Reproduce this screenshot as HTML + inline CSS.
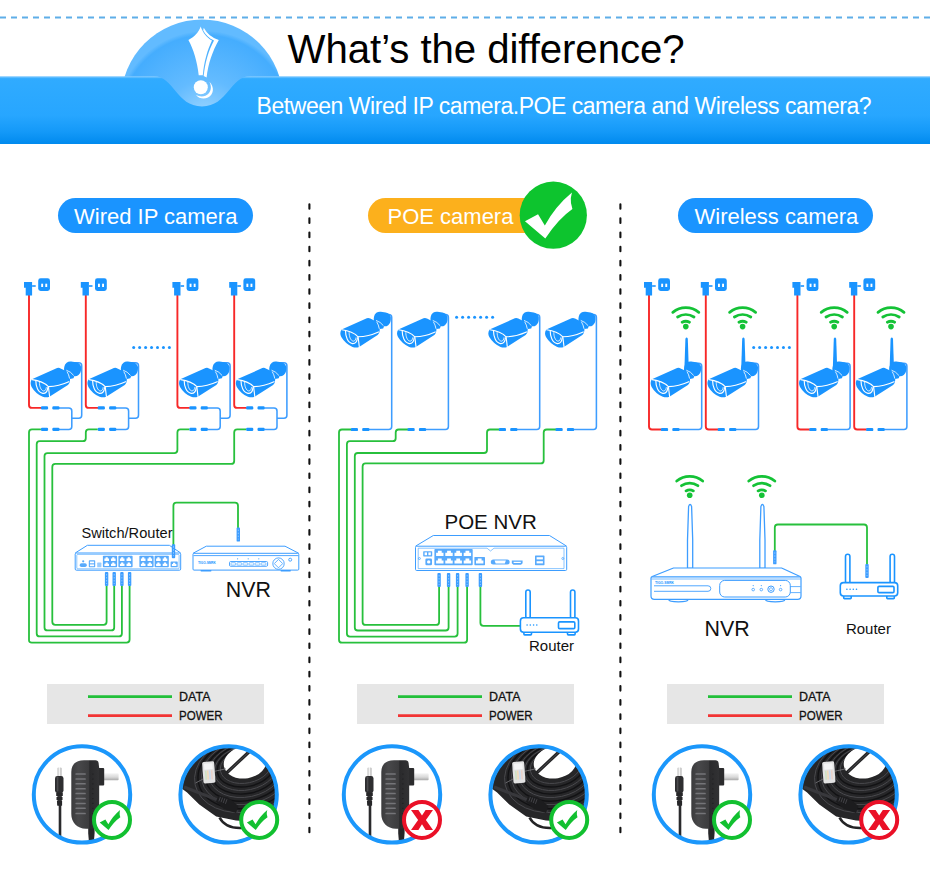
<!DOCTYPE html>
<html>
<head>
<meta charset="utf-8">
<title>What's the difference?</title>
<style>
html,body{margin:0;padding:0;background:#fff;}
body{width:930px;height:874px;overflow:hidden;position:relative;font-family:"Liberation Sans",sans-serif;}
svg{position:absolute;left:0;top:0;display:block;}
text{font-family:"Liberation Sans",sans-serif;}
</style>
</head>
<body>
<svg width="930" height="874" viewBox="0 0 930 874">
<defs>
  <linearGradient id="gBanner" x1="0" y1="0" x2="0" y2="1">
    <stop offset="0" stop-color="#86ccff"/>
    <stop offset="0.035" stop-color="#30abff"/>
    <stop offset="0.58" stop-color="#27a6ff"/>
    <stop offset="0.82" stop-color="#1499f8"/>
    <stop offset="1" stop-color="#008aee"/>
  </linearGradient>
  <radialGradient id="gDome" cx="0.52" cy="0.62" r="0.55">
    <stop offset="0" stop-color="#a2d8ff"/>
    <stop offset="0.45" stop-color="#63bbff"/>
    <stop offset="0.95" stop-color="#45adfe"/>
    <stop offset="1" stop-color="#62bbff"/>
  </radialGradient>
  
  <clipPath id="clipDome"><rect x="0" y="0" width="930" height="112"/></clipPath>
  <!-- camera: local origin corresponds to abs (20,350) for col1 cam1 -->
  <g id="cam">
    <rect x="44.1" y="11.8" width="17" height="14" rx="6" transform="rotate(8 52.6 18.8)" fill="#1a94ff"/>
    <path d="M46.2,19.5 L54.6,25.4 L53.5,28.2 L50,28.9 L46.9,21.6 Z" fill="#1a94ff"/>
    <path d="M11.9,29.3 L37.1,18.1 Q38.8,17.2 40.6,18.4 L46.5,21.2 L50,27.9 Q50.4,32.8 47.9,34.9 L29.4,46.7 Q26.3,47.8 22.8,46.7 Q15.8,43.9 11.6,36.9 Q9.5,32.8 11.9,29.3 Z" fill="#1a94ff"/>
    <g fill="none" stroke="#fff" stroke-width="1.15" stroke-linecap="round">
      <path d="M12.3,29.6 Q22.8,31 28.4,36.6 Q38.8,36.3 48.8,31.7"/>
      <path d="M28.4,36.6 L29.6,46.5"/>
      <path d="M15.8,30.5 C15.8,36.3 17.9,42.5 22.8,43.4 C26.3,43.6 27.5,40.4 27.8,37.6"/>
      <path d="M19.4,32.4 C19.4,36.3 20.8,40.4 23.5,41 C25.4,41 26.1,39.2 26.3,37.6" stroke-width="0.8"/>
      <path d="M46.7,20.3 Q50.7,21.6 53.5,25.2" stroke-width="0.8"/>
      <path d="M47.2,21.9 Q49,24.7 49.5,28.2" stroke-width="0.8"/>
    </g>
  </g>
  <!-- plug + socket: local origin = abs (20,270) col1 plug1 -->
  <g id="plug">
    <path d="M4,11.9 H12.1 V25.5 H5.7 V17.8 H4 Z" fill="#1a94ff"/>
    <line x1="12.1" y1="16" x2="15.7" y2="16" stroke="#1a94ff" stroke-width="1.6"/>
    <rect x="18.2" y="8.3" width="11.8" height="12.7" rx="2.4" fill="#1a94ff"/>
    <rect x="21.2" y="13.7" width="1.9" height="3.3" fill="#fff"/>
    <rect x="25.3" y="13.7" width="1.9" height="3.3" fill="#fff"/>
  </g>
  <!-- horizontal connector pair (two dashes) origin at left of first dash, centered on y=0 -->
  <g id="hcon">
    <rect x="0" y="-1.6" width="7.2" height="3.2" rx="1.2" fill="#1a94ff"/>
    <rect x="11.4" y="-1.6" width="7.2" height="3.2" rx="1.2" fill="#1a94ff"/>
  </g>
  <!-- vertical RJ45 connector, origin top-center, length 14 -->
  <g id="vcon">
    <rect x="-1.7" y="0" width="3.4" height="14" rx="0.9" fill="#3d9dff"/>
    <line x1="0" y1="2" x2="0" y2="12" stroke="#bfe0ff" stroke-width="0.6" stroke-dasharray="1.5 1.5"/>
  </g>
  <!-- wifi icon: origin at dot center -->
  <g id="wifi" fill="none" stroke="#14c236" stroke-width="2.8" stroke-linecap="round">
    <circle cx="0" cy="-0.2" r="2.8" fill="#14c236" stroke="none"/>
    <path d="M-3.7,-4.6 A7.9,7.9 0 0 1 3.7,-4.6"/>
    <path d="M-8.2,-9.8 A15,15 0 0 1 8.2,-9.8"/>
    <path d="M-13,-14.5 A20.6,20.6 0 0 1 13,-14.5"/>
  </g>
  <!-- check mark unit: coordinates relative to circle radius 1 -->
  <path id="chk" d="M-0.843,0.182 L-0.454,-0.029 L-0.252,0.303 Q0.065,-0.274 0.555,-0.677 Q0.50,-0.5 0.526,-0.36 L0.569,-0.187 Q0.151,0.101 -0.238,0.692 Z"/>

  <linearGradient id="gProng" x1="0" y1="0" x2="0" y2="1"><stop offset="0" stop-color="#f4f4f4"/><stop offset="0.55" stop-color="#d9d9d9"/><stop offset="1" stop-color="#a9a9a9"/></linearGradient>
  <linearGradient id="gBody" x1="0" y1="0" x2="1" y2="0"><stop offset="0" stop-color="#3a3a3c"/><stop offset="0.25" stop-color="#48484a"/><stop offset="0.62" stop-color="#3c3c3e"/><stop offset="0.66" stop-color="#2a2a2c"/><stop offset="1" stop-color="#323234"/></linearGradient>
  <linearGradient id="gTip" x1="0" y1="0" x2="1" y2="0"><stop offset="0" stop-color="#bdbdbd"/><stop offset="0.5" stop-color="#f3f3f3"/><stop offset="1" stop-color="#a8a8a8"/></linearGradient>
  <g id="adapter">
    <!-- dc plug -->
    <rect x="57.5" y="767.4" width="4" height="9.6" rx="1" fill="url(#gTip)"/>
    <rect x="55" y="776" width="8.5" height="17" rx="2.4" fill="#2e2e30"/>
    <rect x="56.8" y="776.5" width="1.6" height="15" rx="0.8" fill="#4c4c4e"/>
    <rect x="57.4" y="792" width="4.4" height="13.6" fill="#323234"/>
    <path d="M56.2,792.6 H62.8 V796 H56.2 Z M56.5,796.9 H62.5 V800 H56.5 Z M56.9,800.9 H62.1 V805.4 H57.4 Z" fill="#262628"/>
    <rect x="58.7" y="804" width="2.6" height="32" fill="#2a2a2c"/>
    <!-- prong -->
    <rect x="103" y="773.3" width="15.6" height="6.9" rx="0.8" fill="url(#gProng)"/>
    <rect x="97" y="767.9" width="7.2" height="17.5" rx="1" fill="#2b2b2d"/>
    <!-- strain relief -->
    <path d="M88.2,826 H94.6 V833 L94,840.5 H88.8 L88.2,833 Z" fill="#262628"/>
    <!-- body -->
    <path d="M71.3,772 C71.3,764 76,760.2 84,760.2 H95.5 Q98.2,760.2 98.6,763 L99.2,768 V821 C99.2,826 96,828.8 91,828.8 H86 C77,828.8 71.3,822 71.3,814 Z" fill="url(#gBody)"/>
    <g fill="#747478">
      <rect x="75.4" y="773.25" width="10.4" height="1.5" rx="0.6"/><rect x="75.4" y="778.25" width="10.4" height="1.5" rx="0.6"/><rect x="75.4" y="783.05" width="10.4" height="1.5" rx="0.6"/><rect x="75.4" y="788.05" width="10.4" height="1.5" rx="0.6"/><rect x="75.4" y="792.85" width="10.4" height="1.5" rx="0.6"/><rect x="75.4" y="797.85" width="10.4" height="1.5" rx="0.6"/><rect x="75.4" y="802.65" width="10.4" height="1.5" rx="0.6"/><rect x="75.4" y="807.55" width="10.4" height="1.5" rx="0.6"/><rect x="75.4" y="812.75" width="10.4" height="1.5" rx="0.6"/>
    </g>
    <g fill="#1c1c1e">
      <circle cx="92.9" cy="774.0" r="0.6"/><circle cx="92.9" cy="779.0" r="0.6"/><circle cx="92.9" cy="783.8" r="0.6"/><circle cx="92.9" cy="788.8" r="0.6"/><circle cx="92.9" cy="793.6" r="0.6"/><circle cx="92.9" cy="798.6" r="0.6"/><circle cx="92.9" cy="803.4" r="0.6"/><circle cx="92.9" cy="808.3" r="0.6"/><circle cx="92.9" cy="813.5" r="0.6"/>
    </g>
  </g>

  <clipPath id="clipCoil"><circle cx="228.6" cy="794.4" r="47"/></clipPath>
  <g id="coil">
    <g clip-path="url(#clipCoil)">
      <circle cx="228.6" cy="794.4" r="48" fill="#262628"/>
      <!-- texture arcs -->
      <g fill="none" stroke="#4a4a4e" stroke-width="0.9">
        <ellipse cx="246" cy="766" rx="26" ry="17" transform="rotate(-12 246 766)"/>
        <ellipse cx="246" cy="768" rx="32" ry="22" transform="rotate(-12 246 768)"/>
        <ellipse cx="246" cy="770" rx="38" ry="27" transform="rotate(-12 246 770)"/>
        <ellipse cx="246" cy="772" rx="45" ry="32" transform="rotate(-12 246 772)"/>
        <ellipse cx="246" cy="774" rx="52" ry="38" transform="rotate(-12 246 774)"/>
      </g>
      <g fill="none" stroke="#121214" stroke-width="1.4">
        <ellipse cx="246" cy="767" rx="29" ry="19.5" transform="rotate(-12 246 767)"/>
        <ellipse cx="246" cy="769" rx="35" ry="24.5" transform="rotate(-12 246 769)"/>
        <ellipse cx="246" cy="771" rx="41.5" ry="29.5" transform="rotate(-12 246 771)"/>
        <ellipse cx="246" cy="773" rx="48.5" ry="35" transform="rotate(-12 246 773)"/>
      </g>
      <!-- hole -->
      <ellipse cx="245.2" cy="762.4" rx="21.6" ry="16" transform="rotate(-10 245.2 762.4)" fill="#fff"/>
      <!-- crossing cable -->
      <path d="M250.5,750.5 L226.5,773" stroke="#242426" stroke-width="3.3" fill="none"/>
      <path d="M249.6,751.4 L228,771.6" stroke="#5a5a5e" stroke-width="0.7" fill="none"/>
      <!-- white bottom-left -->
      <path d="M176,784.6 L187.1,792.4 L199.3,804.6 L216.2,816.4 L236,820.6 L262,822 V848 H176 Z" fill="#fff"/>
      <!-- lower loop -->
      <path d="M219.5,817.5 C224,826 232,828.5 242,828" fill="none" stroke="#242426" stroke-width="2.6"/>
      <!-- long boot cable along the diagonal -->
      <path d="M184,787 L218,800 L238,812" fill="none" stroke="#38383c" stroke-width="3"/>
      <path d="M218.5,795.5 L228,797.5 L238.5,806 L236,813 L224,809 L216,801.5 Z" fill="#1c1c1e"/>
      <g stroke="#55555a" stroke-width="0.7"><path d="M220.4,797 l-1.6,4.4 M222.6,797.6 l-1.6,4.6 M224.8,798.4 l-1.6,4.6 M227,799.2 l-1.6,4.6"/></g>
      <!-- RJ45 clear plug -->
      <g transform="rotate(-4 208.8 772.3)">
        <rect x="202.8" y="761.6" width="12" height="21.6" rx="1.6" fill="#e2e2e2"/>
        <rect x="204.6" y="763.4" width="8.4" height="6" fill="#f4f4f4"/>
        <rect x="205" y="770.5" width="1.5" height="9" fill="#cfe3c2"/><rect x="207" y="770.5" width="1.5" height="9" fill="#f1d9b8"/><rect x="209" y="770.5" width="1.5" height="9" fill="#c8d8ef"/><rect x="211" y="770.5" width="1.5" height="9" fill="#ead0c8"/>
      </g>
      <path d="M215,771.2 L226,768.8 M203,779 L195.5,783" stroke="#7a7a7e" stroke-width="0.8" fill="none"/>
    </g>
  </g>

</defs>

<!-- ===== HEADER ===== -->
<g id="header">
  <line x1="0" y1="17.5" x2="930" y2="17.5" stroke="#5eaee8" stroke-width="1.8" stroke-dasharray="6 5"/>
  <circle cx="202" cy="100.5" r="81" fill="url(#gDome)" clip-path="url(#clipDome)"/>
  <path d="M0,76.3 H154 C174,76.3 176,106.4 202,106.4 C228,106.4 230,76.3 250,76.3 H930 V144 H0 Z" fill="url(#gBanner)"/>
  <g id="excl" fill="#fff">
    <path d="M200.7,26.6 C199,32 194,37.6 188.4,40 C193.4,49 197.4,62 198.7,75.3 L202.8,75.3 C204,62 207.4,50 212,40.6 C207,38 202.6,32.6 200.7,26.6 Z"/>
    <path d="M203.8,27.8 C206.8,33.4 212,37.8 218.8,40 C212.6,51 208,64 206.6,77.4 L203.7,76 C205,63 208.4,50.6 214,40.4 C209.2,38.4 205.4,34.6 203.2,30.2 Z"/>
    <circle cx="200.8" cy="87.2" r="7"/>
    <path d="M209.4,81.8 C214.6,86.8 214,94.6 208,97.6 C203.6,99.6 198.6,98.4 196,95 C200.4,97.4 205.6,96.8 208.6,93.6 C211.6,90.2 211.4,85.4 209.4,81.8 Z"/>
  </g>
  <text x="287.6" y="63" font-size="40.2" fill="#000" textLength="397" lengthAdjust="spacing">What’s the difference?</text>
  <text x="256.6" y="113.7" font-size="23" fill="#fff" textLength="615" lengthAdjust="spacing">Between Wired IP camera.POE camera and Wireless camera?</text>
</g>

<!-- ===== PILLS ===== -->
<g id="pills">
  <rect x="58" y="198" width="195" height="35" rx="17.5" fill="#1a94ff"/>
  <text x="74" y="224" font-size="22" fill="#fff">Wired IP camera</text>
  <rect x="368" y="198" width="190" height="35" rx="17.5" fill="#fcb01c"/>
  <text x="387.5" y="224" font-size="22" fill="#fff">POE camera</text>
  <circle cx="553.3" cy="215.2" r="33.6" fill="#0dc42e"/>
  <use href="#chk" transform="translate(553.3,215.2) scale(33.6)" fill="#fff"/>
  <rect x="678" y="198" width="195" height="35" rx="17.5" fill="#1a94ff"/>
  <text x="694.5" y="224" font-size="22" fill="#fff">Wireless camera</text>
</g>

<!-- ===== DIVIDERS ===== -->
<g id="dividers" stroke="#111" stroke-width="2.1" stroke-linecap="round" stroke-dasharray="4.6 9.57">
  <line x1="309.4" y1="204.2" x2="309.4" y2="834"/>
  <line x1="620.4" y1="204.2" x2="620.4" y2="834"/>
</g>

<g id="col1">
<g fill="none" stroke="#27c03c" stroke-width="1.8" stroke-linejoin="round">
<path d="M40.9,429.4 H32 Q29,429.4 29,432.4 V639.6 Q28.8,642.6 31.8,642.6 H126.6 Q129.6,642.6 129.6,639.6 V586"/>
<path d="M97.69999999999999,429.4 H88.8 Q85.8,429.4 85.8,432.4 V438.2 Q85.8,441.2 82.8,441.2 H39.7 Q36.7,441.2 36.7,444.2 V633.4 Q36.7,636.4 39.7,636.4 H118.9 Q121.9,636.4 121.9,633.4 V586"/>
<path d="M189.3,429.4 H180.4 Q177.4,429.4 177.4,432.4 V450.1 Q177.4,453.1 174.4,453.1 H47.5 Q44.5,453.1 44.5,456.1 V627.4 Q44.5,630.4 47.5,630.4 H111.2 Q114.2,630.4 114.2,627.4 V586"/>
<path d="M246.1,429.4 H237.2 Q234.2,429.4 234.2,432.4 V460.9 Q234.2,463.9 231.2,463.9 H55.3 Q52.3,463.9 52.3,466.9 V621.8 Q52.3,624.8 55.3,624.8 H103.6 Q106.6,624.8 106.6,621.8 V586"/>
<path d="M173.4,545 V505.7 Q173.4,502.7 176.4,502.7 H235 Q238,502.7 238,505.7 V528"/>
</g>
<g transform="translate(0,0)">
<path d="M29,295 V404.9 Q29,407.9 32,407.9 H41.5" fill="none" stroke="#f72828" stroke-width="1.9"/>
<path d="M59,407.9 H68.8 Q71.8,407.9 71.8,410.9 V426.4 Q71.8,429.4 68.8,429.4 H59 M71.8,418.3 H78.7 Q81.7,418.3 81.7,415.3 V365.8 Q81.7,362.8 78.7,362.8 H72" fill="none" stroke="#3d9dff" stroke-width="1.55"/>
<use href="#hcon" x="40.9" y="407.9"/>
<use href="#hcon" x="40.9" y="429.4"/>
<use href="#plug" x="20" y="270"/>
<use href="#cam" x="20" y="350"/>
</g>
<g transform="translate(56.8,0)">
<path d="M29,295 V404.9 Q29,407.9 32,407.9 H41.5" fill="none" stroke="#f72828" stroke-width="1.9"/>
<path d="M59,407.9 H68.8 Q71.8,407.9 71.8,410.9 V426.4 Q71.8,429.4 68.8,429.4 H59 M71.8,418.3 H78.7 Q81.7,418.3 81.7,415.3 V365.8 Q81.7,362.8 78.7,362.8 H72" fill="none" stroke="#3d9dff" stroke-width="1.55"/>
<use href="#hcon" x="40.9" y="407.9"/>
<use href="#hcon" x="40.9" y="429.4"/>
<use href="#plug" x="20" y="270"/>
<use href="#cam" x="20" y="350"/>
</g>
<g transform="translate(148.4,0)">
<path d="M29,295 V404.9 Q29,407.9 32,407.9 H41.5" fill="none" stroke="#f72828" stroke-width="1.9"/>
<path d="M59,407.9 H68.8 Q71.8,407.9 71.8,410.9 V426.4 Q71.8,429.4 68.8,429.4 H59 M71.8,418.3 H78.7 Q81.7,418.3 81.7,415.3 V365.8 Q81.7,362.8 78.7,362.8 H72" fill="none" stroke="#3d9dff" stroke-width="1.55"/>
<use href="#hcon" x="40.9" y="407.9"/>
<use href="#hcon" x="40.9" y="429.4"/>
<use href="#plug" x="20" y="270"/>
<use href="#cam" x="20" y="350"/>
</g>
<g transform="translate(205.2,0)">
<path d="M29,295 V404.9 Q29,407.9 32,407.9 H41.5" fill="none" stroke="#f72828" stroke-width="1.9"/>
<path d="M59,407.9 H68.8 Q71.8,407.9 71.8,410.9 V426.4 Q71.8,429.4 68.8,429.4 H59 M71.8,418.3 H78.7 Q81.7,418.3 81.7,415.3 V365.8 Q81.7,362.8 78.7,362.8 H72" fill="none" stroke="#3d9dff" stroke-width="1.55"/>
<use href="#hcon" x="40.9" y="407.9"/>
<use href="#hcon" x="40.9" y="429.4"/>
<use href="#plug" x="20" y="270"/>
<use href="#cam" x="20" y="350"/>
</g>
<g fill="#1a94ff"><circle cx="133.70" cy="347.5" r="1.5"/><circle cx="139.65" cy="347.5" r="1.5"/><circle cx="145.60" cy="347.5" r="1.5"/><circle cx="151.55" cy="347.5" r="1.5"/><circle cx="157.50" cy="347.5" r="1.5"/><circle cx="163.45" cy="347.5" r="1.5"/><circle cx="169.40" cy="347.5" r="1.5"/></g>
<g id="switch" fill="none" stroke="#3d9dff" stroke-width="1" stroke-linejoin="round">
<path d="M75.2,553 L87.4,545.3 H169.4 L180.7,553" fill="#fff"/>
<rect x="75.2" y="553" width="105.5" height="17.2" rx="1.2" fill="#fff"/>
<rect x="76.8" y="554.4" width="102.3" height="14.4" rx="0.8" stroke-width="0.6"/>
<rect x="102.9" y="555.7" width="14.2" height="11.6" rx="0.8" fill="#58aafc" stroke="none"/>
<path d="M104.4,560.9 V558.5 H105.6 V557.3 H107.8 V558.5 H109.0 V560.9 Z" fill="#fff" stroke="none"/>
<path d="M111.0,560.9 V558.5 H112.2 V557.3 H114.4 V558.5 H115.6 V560.9 Z" fill="#fff" stroke="none"/>
<path d="M104.4,566.1 V563.7 H105.6 V562.5 H107.8 V563.7 H109.0 V566.1 Z" fill="#fff" stroke="none"/>
<path d="M111.0,566.1 V563.7 H112.2 V562.5 H114.4 V563.7 H115.6 V566.1 Z" fill="#fff" stroke="none"/>
<rect x="118.4" y="555.7" width="14.2" height="11.6" rx="0.8" fill="#58aafc" stroke="none"/>
<path d="M119.9,560.9 V558.5 H121.1 V557.3 H123.3 V558.5 H124.5 V560.9 Z" fill="#fff" stroke="none"/>
<path d="M126.5,560.9 V558.5 H127.7 V557.3 H129.9 V558.5 H131.1 V560.9 Z" fill="#fff" stroke="none"/>
<path d="M119.9,566.1 V563.7 H121.1 V562.5 H123.3 V563.7 H124.5 V566.1 Z" fill="#fff" stroke="none"/>
<path d="M126.5,566.1 V563.7 H127.7 V562.5 H129.9 V563.7 H131.1 V566.1 Z" fill="#fff" stroke="none"/>
<rect x="139.4" y="555.7" width="14.2" height="11.6" rx="0.8" fill="#58aafc" stroke="none"/>
<path d="M140.9,560.9 V558.5 H142.1 V557.3 H144.3 V558.5 H145.5 V560.9 Z" fill="#fff" stroke="none"/>
<path d="M147.5,560.9 V558.5 H148.7 V557.3 H150.9 V558.5 H152.1 V560.9 Z" fill="#fff" stroke="none"/>
<path d="M140.9,566.1 V563.7 H142.1 V562.5 H144.3 V563.7 H145.5 V566.1 Z" fill="#fff" stroke="none"/>
<path d="M147.5,566.1 V563.7 H148.7 V562.5 H150.9 V563.7 H152.1 V566.1 Z" fill="#fff" stroke="none"/>
<rect x="154.6" y="555.7" width="14.2" height="11.6" rx="0.8" fill="#58aafc" stroke="none"/>
<path d="M156.1,560.9 V558.5 H157.3 V557.3 H159.5 V558.5 H160.7 V560.9 Z" fill="#fff" stroke="none"/>
<path d="M162.7,560.9 V558.5 H163.9 V557.3 H166.1 V558.5 H167.3 V560.9 Z" fill="#fff" stroke="none"/>
<path d="M156.1,566.1 V563.7 H157.3 V562.5 H159.5 V563.7 H160.7 V566.1 Z" fill="#fff" stroke="none"/>
<path d="M162.7,566.1 V563.7 H163.9 V562.5 H166.1 V563.7 H167.3 V566.1 Z" fill="#fff" stroke="none"/>
<rect x="170.6" y="561.5" width="7.1" height="5.8" rx="0.6" fill="#58aafc" stroke="none"/>
<path d="M171.9,566 V563.9 H173 V562.8 H175.3 V563.9 H176.4 V566 Z" fill="#fff" stroke="none"/>
<circle cx="83.2" cy="561.3" r="1.1" fill="#58aafc" stroke="none"/>
<rect x="79.7" y="563.3" width="7.1" height="3.8" rx="1.8" fill="#58aafc" stroke="none"/>
<rect x="88.8" y="560.3" width="6.4" height="7" rx="0.8" fill="#58aafc" stroke="none"/>
<rect x="89.9" y="561.5" width="4.2" height="1.8" fill="#fff" stroke="none"/><rect x="89.9" y="564.4" width="4.2" height="1.8" fill="#fff" stroke="none"/>
<rect x="97.2" y="562.6" width="4.2" height="4.7" rx="0.6" fill="#9accfd" stroke="none"/>
</g>
<g id="nvr1" fill="none" stroke="#3d9dff" stroke-width="1" stroke-linejoin="round">
<path d="M193,553.3 L206.3,546.2 H285 L298.8,553.3" fill="#fff"/>
<rect x="193" y="553.3" width="105.8" height="16.8" rx="1" fill="#fff"/>
<line x1="193.5" y1="555.6" x2="298.3" y2="555.6" stroke-width="0.9"/>
<rect x="200.5" y="570.1" width="11" height="1.4" rx="0.7" fill="#3d9dff" stroke="none"/>
<rect x="280.5" y="570.1" width="10.4" height="1.4" rx="0.7" fill="#3d9dff" stroke="none"/>
<text x="197.9" y="563.6" font-size="3.8" font-weight="bold" fill="#1a94ff" stroke="none" textLength="18" lengthAdjust="spacingAndGlyphs">TIGO-SMRK</text>
<rect x="229.5" y="561.5" width="38.1" height="4.8" rx="1.2" stroke-width="0.9"/>
<rect x="231.00" y="562.7" width="4.6" height="2.4" rx="0.5" stroke-width="0.6"/>
<rect x="237.05" y="562.7" width="4.6" height="2.4" rx="0.5" stroke-width="0.6"/>
<rect x="243.10" y="562.7" width="4.6" height="2.4" rx="0.5" stroke-width="0.6"/>
<rect x="249.15" y="562.7" width="4.6" height="2.4" rx="0.5" stroke-width="0.6"/>
<rect x="255.20" y="562.7" width="4.6" height="2.4" rx="0.5" stroke-width="0.6"/>
<rect x="261.25" y="562.7" width="4.6" height="2.4" rx="0.5" stroke-width="0.6"/>
<circle cx="237.6" cy="558.8" r="0.6" fill="#3d9dff" stroke="none"/>
<circle cx="248.2" cy="558.8" r="0.6" fill="#3d9dff" stroke="none"/>
<circle cx="258.8" cy="558.8" r="0.6" fill="#3d9dff" stroke="none"/>
<circle cx="278.5" cy="563.6" r="5.7" stroke-width="0.9"/>
<path d="M278.5,559.4 L282.7,563.6 L278.5,567.8 L274.3,563.6 Z" stroke-width="0.8"/>
<circle cx="290.2" cy="559.7" r="1.5" stroke-width="0.9"/>
</g>
<use href="#vcon" x="106.6" y="572"/>
<use href="#vcon" x="114.2" y="572"/>
<use href="#vcon" x="121.9" y="572"/>
<use href="#vcon" x="129.6" y="572"/>
<use href="#vcon" x="173.5" y="544.2"/>
<use href="#vcon" x="238.3" y="527.6"/>
<text x="81.5" y="537.6" font-size="15" fill="#111" textLength="91" lengthAdjust="spacingAndGlyphs">Switch/Router</text>
<text x="225.8" y="596.8" font-size="21.4" fill="#111">NVR</text>
</g>
<g id="col2">
<g fill="none" stroke="#27c03c" stroke-width="1.8" stroke-linejoin="round">
<path d="M351.4,429.5 H342.0 Q339.0,429.5 339.0,432.5 V639.7 Q339.0,642.7 342.0,642.7 H464.1 Q467.1,642.7 467.1,639.7 V586"/>
<path d="M408.09999999999997,429.5 H398.7 Q395.7,429.5 395.7,432.5 V438.2 Q395.7,441.2 392.7,441.2 H349.9 Q346.9,441.2 346.9,444.2 V633.6 Q346.9,636.6 349.9,636.6 H454.6 Q457.6,636.6 457.6,633.6 V586"/>
<path d="M499.4,429.5 H490.0 Q487.0,429.5 487.0,432.5 V450 Q487.0,453 484.0,453 H357.8 Q354.8,453 354.8,456 V627.5 Q354.8,630.5 357.8,630.5 H445.6 Q448.6,630.5 448.6,627.5 V586"/>
<path d="M556.0999999999999,429.5 H546.7 Q543.7,429.5 543.7,432.5 V460.4 Q543.7,463.4 540.7,463.4 H365.6 Q362.6,463.4 362.6,466.4 V621.9 Q362.6,624.9 365.6,624.9 H436.1 Q439.1,624.9 439.1,621.9 V586"/>
<path d="M480.4,586 V622.8 Q480.4,625.8 483.4,625.8 H521"/>
</g>
<g transform="translate(0,0)">
<path d="M369,429.5 H388.7 Q391.7,429.5 391.7,426.5 V317.4 Q391.7,314.4 388.7,314.4 H382" fill="none" stroke="#3d9dff" stroke-width="1.55"/>
<use href="#hcon" x="350.8" y="429.5"/>
<use href="#cam" x="329.7" y="300.2"/>
</g>
<g transform="translate(56.7,0)">
<path d="M369,429.5 H388.7 Q391.7,429.5 391.7,426.5 V317.4 Q391.7,314.4 388.7,314.4 H382" fill="none" stroke="#3d9dff" stroke-width="1.55"/>
<use href="#hcon" x="350.8" y="429.5"/>
<use href="#cam" x="329.7" y="300.2"/>
</g>
<g transform="translate(148,0)">
<path d="M369,429.5 H388.7 Q391.7,429.5 391.7,426.5 V317.4 Q391.7,314.4 388.7,314.4 H382" fill="none" stroke="#3d9dff" stroke-width="1.55"/>
<use href="#hcon" x="350.8" y="429.5"/>
<use href="#cam" x="329.7" y="300.2"/>
</g>
<g transform="translate(204.7,0)">
<path d="M369,429.5 H388.7 Q391.7,429.5 391.7,426.5 V317.4 Q391.7,314.4 388.7,314.4 H382" fill="none" stroke="#3d9dff" stroke-width="1.55"/>
<use href="#hcon" x="350.8" y="429.5"/>
<use href="#cam" x="329.7" y="300.2"/>
</g>
<g fill="#1a94ff"><circle cx="456.60" cy="317.2" r="1.5"/><circle cx="462.60" cy="317.2" r="1.5"/><circle cx="468.60" cy="317.2" r="1.5"/><circle cx="474.60" cy="317.2" r="1.5"/><circle cx="480.60" cy="317.2" r="1.5"/><circle cx="486.60" cy="317.2" r="1.5"/><circle cx="492.60" cy="317.2" r="1.5"/></g>
<use href="#vcon" x="439.1" y="573"/>
<use href="#vcon" x="448.6" y="573"/>
<use href="#vcon" x="457.6" y="573"/>
<use href="#vcon" x="467.1" y="573"/>
<use href="#vcon" x="480.4" y="573"/>
<g id="poenvr" fill="none" stroke="#3d9dff" stroke-width="1" stroke-linejoin="round">
<path d="M415.5,546.2 L433.3,535.5 H549.5 L566.7,546.2" fill="#fff"/>
<rect x="415.5" y="546.2" width="151.2" height="24.3" rx="1.2" fill="#fff"/>
<path d="M418.2,548.2 H487 L490.5,551 L494,548.2 H564 V568.6 H418.2 Z" stroke-width="0.6"/>
<rect x="434.4" y="549" width="38.3" height="16.2" rx="0.8" fill="#58aafc" stroke="none"/>
<path d="M436.1,556.0 V552.8 H437.9 V550.8 H441.7 V552.8 H443.5 V556.0 Z" fill="#fff" stroke="none"/>
<path d="M445.3,556.0 V552.8 H447.1 V550.8 H450.9 V552.8 H452.7 V556.0 Z" fill="#fff" stroke="none"/>
<path d="M454.5,556.0 V552.8 H456.3 V550.8 H460.1 V552.8 H461.9 V556.0 Z" fill="#fff" stroke="none"/>
<path d="M463.7,556.0 V552.8 H465.5 V550.8 H469.3 V552.8 H471.1 V556.0 Z" fill="#fff" stroke="none"/>
<path d="M436.1,563.6 V560.4 H437.9 V558.4 H441.7 V560.4 H443.5 V563.6 Z" fill="#fff" stroke="none"/>
<path d="M445.3,563.6 V560.4 H447.1 V558.4 H450.9 V560.4 H452.7 V563.6 Z" fill="#fff" stroke="none"/>
<path d="M454.5,563.6 V560.4 H456.3 V558.4 H460.1 V560.4 H461.9 V563.6 Z" fill="#fff" stroke="none"/>
<path d="M463.7,563.6 V560.4 H465.5 V558.4 H469.3 V560.4 H471.1 V563.6 Z" fill="#fff" stroke="none"/>
<rect x="474.4" y="557" width="10.6" height="8.2" rx="0.6" fill="#58aafc" stroke="none"/>
<path d="M476,563.6 V560.4 H477.8 V558.6 H481.6 V560.4 H483.4 V563.6 Z" fill="#fff" stroke="none"/>
<rect x="490.8" y="559.6" width="18.9" height="5" rx="2.5" fill="#58aafc" stroke="none"/>
<path d="M494.6,560.6 H505.9 L504.8,563.6 H495.7 Z" fill="#fff" stroke="none"/>
<path d="M511.8,560.6 H522.6 V563.2 L521,564.8 H513.4 L511.8,563.2 Z" fill="#58aafc" stroke="none"/>
<rect x="513.6" y="561.8" width="7.2" height="1.2" fill="#fff" stroke="none"/>
<rect x="535" y="555.5" width="9.5" height="9.7" rx="0.6" fill="#58aafc" stroke="none"/>
<rect x="536.6" y="557.2" width="6.3" height="2.2" fill="#fff" stroke="none"/><rect x="536.6" y="561.2" width="6.3" height="2.2" fill="#fff" stroke="none"/>
<rect x="423.2" y="551.2" width="9" height="5.2" rx="0.6" fill="#58aafc" stroke="none"/>
<rect x="424.6" y="552.4" width="2.4" height="2.8" fill="#fff" stroke="none"/><rect x="428.4" y="552.4" width="2.4" height="2.8" fill="#fff" stroke="none"/>
<rect x="425.4" y="558.6" width="6.6" height="6.6" rx="1.2" fill="#58aafc" stroke="none"/>
<circle cx="428.7" cy="561.9" r="1.7" fill="#fff" stroke="none"/>
<circle cx="419.4" cy="558.5" r="1" stroke-width="0.7"/><circle cx="562.8" cy="558.5" r="1" stroke-width="0.7"/>
</g>
<g fill="none" stroke="#1a94ff" stroke-width="1.6" stroke-linejoin="round">
<rect x="525.8" y="590" width="4.4" height="28.8" rx="2.2" fill="#fff"/>
<rect x="570.5" y="590" width="4.4" height="28.8" rx="2.2" fill="#fff"/>
<rect x="523.9" y="631.3" width="7.6" height="3.6" rx="0.8" fill="#fff"/>
<rect x="567.5" y="631.3" width="7.6" height="3.6" rx="0.8" fill="#fff"/>
<rect x="520.4" y="617.8" width="58.1" height="14.5" rx="3.2" fill="#fff"/>
<circle cx="527.1" cy="625.0" r="0.8" fill="#1a94ff" stroke="none"/>
<circle cx="530.3" cy="625.0" r="0.8" fill="#1a94ff" stroke="none"/>
<circle cx="533.6" cy="625.0" r="0.8" fill="#1a94ff" stroke="none"/>
<circle cx="536.8" cy="625.0" r="0.8" fill="#1a94ff" stroke="none"/>
<rect x="558.5" y="621.9" width="16.3" height="6.7" rx="1.2"/>
</g>
<text x="444.5" y="528.6" font-size="20.5" fill="#111">POE NVR</text>
<text x="529" y="650.5" font-size="15" fill="#111">Router</text>
</g>
<g id="col3">
<path d="M774.8,551 V527.5 Q774.8,524.5 777.8,524.5 H864 Q867,524.5 867,527.5 V565" fill="none" stroke="#27c03c" stroke-width="1.8"/>
<g transform="translate(620,0)">
<path d="M29,295 V426.5 Q29,429.5 32,429.5 H41.5" fill="none" stroke="#f72828" stroke-width="1.9"/>
<path d="M58.5,429.5 H78.7 Q81.7,429.5 81.7,426.5 V366.2 Q81.7,363.2 78.7,363.2 H72" fill="none" stroke="#3d9dff" stroke-width="1.55"/>
<use href="#hcon" x="40.9" y="429.5"/>
<use href="#plug" x="20" y="270"/>
<path d="M65.4,338.8 Q66.6,336.2 67.8,338.8 L68.9,372 H64.3 Z" fill="#1a94ff"/>
<use href="#cam" x="20" y="350"/>
<use href="#wifi" x="65.8" y="326.8"/>
</g>
<g transform="translate(676.8,0)">
<path d="M29,295 V426.5 Q29,429.5 32,429.5 H41.5" fill="none" stroke="#f72828" stroke-width="1.9"/>
<path d="M58.5,429.5 H78.7 Q81.7,429.5 81.7,426.5 V366.2 Q81.7,363.2 78.7,363.2 H72" fill="none" stroke="#3d9dff" stroke-width="1.55"/>
<use href="#hcon" x="40.9" y="429.5"/>
<use href="#plug" x="20" y="270"/>
<path d="M65.4,338.8 Q66.6,336.2 67.8,338.8 L68.9,372 H64.3 Z" fill="#1a94ff"/>
<use href="#cam" x="20" y="350"/>
<use href="#wifi" x="65.8" y="326.8"/>
</g>
<g transform="translate(768.4,0)">
<path d="M29,295 V426.5 Q29,429.5 32,429.5 H41.5" fill="none" stroke="#f72828" stroke-width="1.9"/>
<path d="M58.5,429.5 H78.7 Q81.7,429.5 81.7,426.5 V366.2 Q81.7,363.2 78.7,363.2 H72" fill="none" stroke="#3d9dff" stroke-width="1.55"/>
<use href="#hcon" x="40.9" y="429.5"/>
<use href="#plug" x="20" y="270"/>
<path d="M65.4,338.8 Q66.6,336.2 67.8,338.8 L68.9,372 H64.3 Z" fill="#1a94ff"/>
<use href="#cam" x="20" y="350"/>
<use href="#wifi" x="65.8" y="326.8"/>
</g>
<g transform="translate(825.2,0)">
<path d="M29,295 V426.5 Q29,429.5 32,429.5 H41.5" fill="none" stroke="#f72828" stroke-width="1.9"/>
<path d="M58.5,429.5 H78.7 Q81.7,429.5 81.7,426.5 V366.2 Q81.7,363.2 78.7,363.2 H72" fill="none" stroke="#3d9dff" stroke-width="1.55"/>
<use href="#hcon" x="40.9" y="429.5"/>
<use href="#plug" x="20" y="270"/>
<path d="M65.4,338.8 Q66.6,336.2 67.8,338.8 L68.9,372 H64.3 Z" fill="#1a94ff"/>
<use href="#cam" x="20" y="350"/>
<use href="#wifi" x="65.8" y="326.8"/>
</g>
<g fill="#1a94ff"><circle cx="753.70" cy="347.5" r="1.5"/><circle cx="759.65" cy="347.5" r="1.5"/><circle cx="765.60" cy="347.5" r="1.5"/><circle cx="771.55" cy="347.5" r="1.5"/><circle cx="777.50" cy="347.5" r="1.5"/><circle cx="783.45" cy="347.5" r="1.5"/><circle cx="789.40" cy="347.5" r="1.5"/></g>
<use href="#wifi" x="689.7" y="495.5"/>
<use href="#wifi" x="761.8" y="495.5"/>
<g id="nvr3" fill="none" stroke="#3d9dff" stroke-width="1.2" stroke-linejoin="round">
<path d="M688.6,506.4 Q690.1,502.6 691.6,506.4 L692.7,540 V568.5 H687.5 V540 Z" fill="#fff" stroke-width="1.3"/>
<path d="M760.9,506.4 Q762.4,502.6 763.9,506.4 L765.0,540 V568.5 H759.8 V540 Z" fill="#fff" stroke-width="1.3"/>
<ellipse cx="678.4" cy="599.8" rx="9.6" ry="2" fill="#fff"/>
<ellipse cx="775.2" cy="599.8" rx="9.6" ry="2" fill="#fff"/>
<path d="M651.6,576.8 L673.5,568 H781.6 L800.6,576.8" fill="#fff"/>
<path d="M651,578 Q651,576.8 652.2,576.8 H799.8 Q801,576.8 801,578 V596 Q801,599.4 797.6,599.4 H654.4 Q651,599.4 651,596 Z" fill="#fff"/>
<line x1="651.5" y1="579" x2="800.5" y2="579" stroke-width="0.7"/>
<rect x="719.7" y="580.4" width="70.6" height="16.6" rx="5" stroke-width="1"/>
<path d="M654,585.8 H708 Q710.8,585.8 710.8,588.5 Q710.8,591.3 708,591.3 H654" stroke-width="0.9"/>
<text x="655" y="584.3" font-size="3.6" font-weight="bold" fill="#1a94ff" stroke="none" textLength="19" lengthAdjust="spacingAndGlyphs">TIGO-SMRK</text>
<circle cx="753.2" cy="589.6" r="1.3" stroke-width="0.8"/>
<circle cx="753.2" cy="585.6" r="0.6" fill="#3d9dff" stroke="none"/>
<circle cx="761.3" cy="589.6" r="1.3" stroke-width="0.8"/>
<circle cx="761.3" cy="585.6" r="0.6" fill="#3d9dff" stroke="none"/>
<circle cx="780.6" cy="589.6" r="1.3" stroke-width="0.8"/>
<circle cx="780.6" cy="585.6" r="0.6" fill="#3d9dff" stroke="none"/>
<circle cx="771" cy="589.2" r="3.2" stroke-width="1"/><circle cx="771" cy="589.2" r="1.5" stroke-width="0.7"/>
<path d="M790.3,586.6 H800.6 M790.3,592.6 H800.6" stroke-width="0.8"/>
</g>
<g fill="none" stroke="#1a94ff" stroke-width="1.6" stroke-linejoin="round">
<rect x="845.5" y="554.2" width="4.4" height="29.4" rx="2.2" fill="#fff"/>
<rect x="890.1" y="554.2" width="4.4" height="29.4" rx="2.2" fill="#fff"/>
<rect x="843.7" y="595.0" width="7.5" height="3.6" rx="0.8" fill="#fff"/>
<rect x="886.8" y="595.0" width="7.5" height="3.6" rx="0.8" fill="#fff"/>
<rect x="840.3" y="582.6" width="57.4" height="13.4" rx="3.2" fill="#fff"/>
<circle cx="846.9" cy="589.3" r="0.8" fill="#1a94ff" stroke="none"/>
<circle cx="850.1" cy="589.3" r="0.8" fill="#1a94ff" stroke="none"/>
<circle cx="853.3" cy="589.3" r="0.8" fill="#1a94ff" stroke="none"/>
<circle cx="856.5" cy="589.3" r="0.8" fill="#1a94ff" stroke="none"/>
<rect x="877.9" y="586.4" width="16.1" height="6.2" rx="1.2"/>
</g>
<use href="#vcon" x="774.8" y="550.3"/>
<use href="#vcon" x="867" y="564"/>
<text x="704.6" y="635.8" font-size="21.4" fill="#111">NVR</text>
<text x="845.9" y="634.2" font-size="15" fill="#111">Router</text>
</g>

<!-- ===== LEGENDS ===== -->
<g id="legends">
  <g id="lg">
    <rect x="47" y="684" width="217" height="40" fill="#e6e6e6"/>
    <line x1="88" y1="696.6" x2="172" y2="696.6" stroke="#22c03a" stroke-width="2.6"/>
    <line x1="88" y1="715.6" x2="172" y2="715.6" stroke="#f23434" stroke-width="2.6"/>
    <text x="179" y="700.5" font-size="12.5" fill="#111" stroke="#111" stroke-width="0.3">DATA</text>
    <text x="179" y="719.5" font-size="12.5" fill="#111" stroke="#111" stroke-width="0.3" textLength="43.5" lengthAdjust="spacingAndGlyphs">POWER</text>
  </g>
  <use href="#lg" x="310"/>
  <use href="#lg" x="620"/>
</g>

<g id="photos">
<use href="#adapter" x="0"/>
<circle cx="82" cy="794.4" r="48.2" fill="none" stroke="#1b97fb" stroke-width="4"/>
<circle cx="112" cy="819.9" r="18" fill="#fff" stroke="#12c030" stroke-width="4"/><use href="#chk" transform="translate(112,819.9) scale(14.6)" fill="#12c030"/>
<use href="#coil" x="0"/>
<circle cx="228.6" cy="794.4" r="48.2" fill="none" stroke="#1b97fb" stroke-width="4"/>
<circle cx="259.2" cy="819.9" r="18" fill="#fff" stroke="#12c030" stroke-width="4"/><use href="#chk" transform="translate(259.2,819.9) scale(14.6)" fill="#12c030"/>
<use href="#adapter" x="310"/>
<circle cx="392" cy="794.4" r="48.2" fill="none" stroke="#1b97fb" stroke-width="4"/>
<circle cx="422" cy="819.9" r="18" fill="#fff" stroke="#ea1027" stroke-width="4"/><path transform="translate(422,819.9)" d="M-11,-10 H-3.6 L0,-4.4 L3.6,-10 H11 L3.9,0 L11,10 H3.6 L0,4.4 L-3.6,10 H-11 L-3.9,0 Z" fill="#ea1027"/>
<use href="#coil" x="310"/>
<circle cx="538.6" cy="794.4" r="48.2" fill="none" stroke="#1b97fb" stroke-width="4"/>
<circle cx="569.2" cy="819.9" r="18" fill="#fff" stroke="#12c030" stroke-width="4"/><use href="#chk" transform="translate(569.2,819.9) scale(14.6)" fill="#12c030"/>
<use href="#adapter" x="620"/>
<circle cx="702" cy="794.4" r="48.2" fill="none" stroke="#1b97fb" stroke-width="4"/>
<circle cx="732" cy="819.9" r="18" fill="#fff" stroke="#12c030" stroke-width="4"/><use href="#chk" transform="translate(732,819.9) scale(14.6)" fill="#12c030"/>
<use href="#coil" x="620"/>
<circle cx="848.6" cy="794.4" r="48.2" fill="none" stroke="#1b97fb" stroke-width="4"/>
<circle cx="879.2" cy="819.9" r="18" fill="#fff" stroke="#ea1027" stroke-width="4"/><path transform="translate(879.2,819.9)" d="M-11,-10 H-3.6 L0,-4.4 L3.6,-10 H11 L3.9,0 L11,10 H3.6 L0,4.4 L-3.6,10 H-11 L-3.9,0 Z" fill="#ea1027"/>
</g>
</svg>
</body>
</html>
